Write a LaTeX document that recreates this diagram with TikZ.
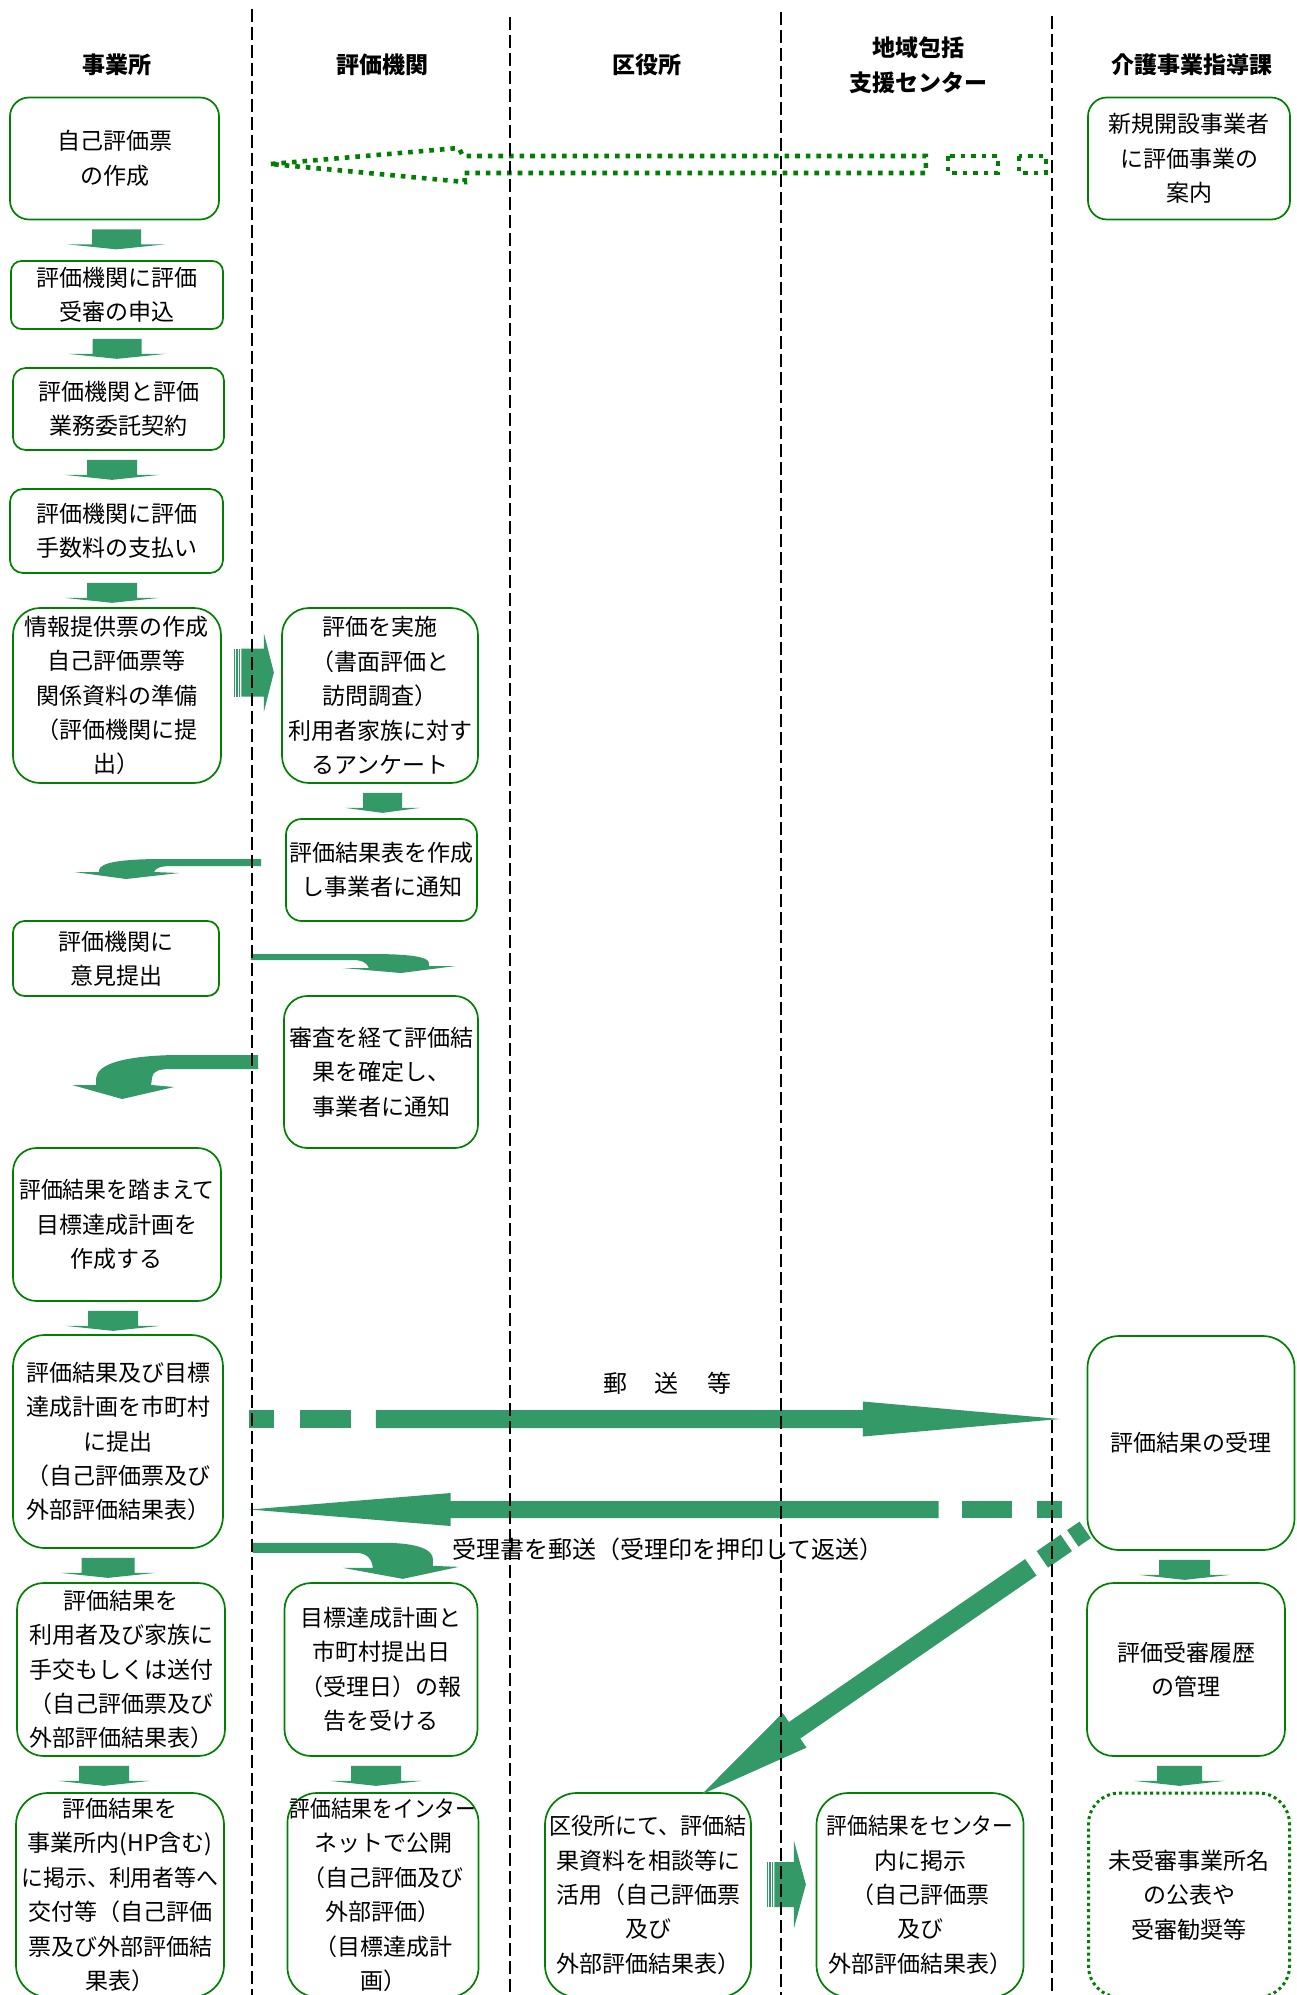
\documentclass[tikz,border=0pt]{standalone}
\usepackage{fontspec}
\setmainfont{Noto Sans CJK JP}
\usetikzlibrary{calc}
\definecolor{evgreen}{RGB}{51,153,102}
\definecolor{evline}{RGB}{0,128,0}
\tikzset{
  box/.style={draw=evline, line width=0.85pt, fill=white, align=center, inner sep=0pt,
    font=\fontsize{11.5pt}{17.2pt}\selectfont},
  boxsize/.style n args={3}{minimum width={#1*0.5pt}, minimum height={#2*0.5pt}, rounded corners={#3*0.5pt}},
  dotbox/.style={line width=1.5pt, dash pattern=on 1.5pt off 1.6pt},
  colhead/.style={font=\fontsize{11.5pt}{17.5pt}\selectfont\bfseries, align=center},
  postlabel/.style={font=\fontsize{12pt}{14pt}\selectfont},
  colline/.style={black, line width=0.7pt, dash pattern=on 6.5pt off 2.5pt},
  dotline/.style={draw=evline, line width=2.3pt, dash pattern=on 2.3pt off 3pt}
}
% small block arrow below a box: node, x offset, shaft half width, head half width
\newcommand{\flowdown}[4]{%
  \fill[evgreen] ($(#1.south)+(#2-#3,9)$) -- ($(#1.south)+(#2+#3,9)$)
    -- ($(#1.south)+(#2+#3,24)$) -- ($(#1.south)+(#2+#4,24)$) -- ($(#1.south)+(#2,29)$)
    -- ($(#1.south)+(#2-#4,24)$) -- ($(#1.south)+(#2-#3,24)$) -- cycle;}
% block arrow along local x: pieces, solid start, head base, tip, shaft half, head half
\newcommand{\tailarrow}[6]{%
  \foreach \a/\b in {#1} {\fill[evgreen] (\a,-#5) rectangle (\b,#5);}
  \fill[evgreen] (#2,-#5) -- (#3,-#5) -- (#3,-#6) -- (#4,0) -- (#3,#6) -- (#3,#5) -- (#2,#5) -- cycle;}

\begin{document}
\begin{tikzpicture}[x=0.5pt, y=-0.5pt]
\useasboundingbox (0,0) rectangle (1296,1995);
\clip (0,0) rectangle (1296,1995);
\fill[white] (0,0) rectangle (1296,1995);

% Column headers
\node[colhead] (h1) at (117,65) {事業所};
\node[colhead] (h2) at (382,65) {評価機関};
\node[colhead] (h3) at (647,65) {区役所};
\node[colhead] (h4) at (918,65) {地域包括\\支援センター};
\node[colhead] (h5) at (1192,65) {介護事業指導課};

% 事業所
\node[box, boxsize={209}{122}{19}] (b1) at (114.5,158.5) {自己評価票\\の作成};
\node[box, boxsize={212}{68}{10.5}] (b2) at (117,295) {評価機関に評価\\受審の申込};
\node[box, boxsize={211}{82}{12.6}] (b3) at (118.5,409) {評価機関と評価\\業務委託契約};
\node[box, boxsize={213}{84}{13}] (b4) at (116.5,531) {評価機関に評価\\手数料の支払い};
\node[box, boxsize={208}{175}{27}] (b5) at (117,695.5) {情報提供票の作成\\自己評価票等\\関係資料の準備\\（評価機関に提\\出）};
\node[box, boxsize={206}{75}{11.5}] (b6) at (116,958.5) {評価機関に\\意見提出};
\node[box, boxsize={208}{153}{23.5}] (b7) at (117,1224.5) {\scalebox{0.95}[1]{評価結果を踏まえて}\\目標達成計画を\\作成する};
\node[box, boxsize={210}{213}{32}] (b8) at (118,1441.5) {評価結果及び目標\\達成計画を市町村\\に提出\\（自己評価票及び\\外部評価結果表）};
\node[box, boxsize={208}{173}{26.6}] (b9) at (121,1669.5) {評価結果を\\利用者及び家族に\\手交もしくは送付\\（自己評価票及び\\外部評価結果表）};
\node[box, boxsize={208}{204}{32}] (b10) at (120,1895) {評価結果を\\事業所内(HP含む)\\\scalebox{0.95}[1]{に掲示、利用者等へ}\\交付等（自己評価\\票及び外部評価結\\果表）};

% 評価機関
\node[box, boxsize={196}{175}{27}] (c1) at (380,695.5) {評価を実施\\（書面評価と\\訪問調査）\\利用者家族に対す\\るアンケート};
\node[box, boxsize={191}{102}{15.7}] (c2) at (381.5,870) {評価結果表を作成\\し事業者に通知};
\node[box, boxsize={194}{152}{23.4}] (c3) at (381,1072) {審査を経て評価結\\果を確定し、\\事業者に通知};
\node[box, boxsize={193}{173}{26.6}] (c4) at (381,1669.5) {目標達成計画と\\市町村提出日\\（受理日）の報\\告を受ける};
\node[box, boxsize={191}{204}{29.4}] (c5) at (383,1895) {\scalebox{0.9}[1]{評価結果をインター}\\ネットで公開\\（自己評価及び\\外部評価）\\（目標達成計\\画）};

% 区役所・地域包括支援センター
\node[box, boxsize={206}{204}{31.7}] (d1) at (648,1895) {\scalebox{0.96}[1]{区役所にて、評価結}\\果資料を相談等に\\活用（自己評価票\\及び\\外部評価結果表）};
\node[box, boxsize={207}{204}{31.8}] (e1) at (920,1895) {\scalebox{0.9}[1]{評価結果をセンター}\\内に掲示\\（自己評価票\\及び\\外部評価結果表）};

% 介護事業指導課
\node[box, boxsize={202}{122}{18.8}] (f1) at (1189,158.5) {新規開設事業者\\に評価事業の\\案内};
\node[box, boxsize={207}{214}{31.8}] (f2) at (1191,1443) {評価結果の受理};
\node[box, boxsize={198}{173}{26.6}] (f3) at (1186,1669.5) {評価受審履歴\\の管理};
\node[box, dotbox, boxsize={201}{204}{31}] (f4) at (1189,1895) {未受審事業所名\\の公表や\\受審勧奨等};

% Down arrows
\flowdown{b1}{2}{24.5}{49}
\flowdown{b2}{0}{24.5}{49}
\flowdown{b3}{-6.5}{25}{47.5}
\flowdown{b4}{-4.5}{25}{47.5}
\flowdown{b7}{-4}{25}{47.5}
\flowdown{b8}{-10}{26.5}{47.5}
\flowdown{b9}{-17}{25}{46}
\flowdown{c1}{2.5}{19.5}{37.5}
\flowdown{c4}{-5}{25}{46}
\flowdown{f2}{-6.5}{25.5}{46}
\flowdown{f3}{-6.5}{22.5}{45.5}

% Guidance (dotted outline arrow)
\coordinate (dotA) at ($(b1.east)+(51,5.5)$);
\begin{scope}[shift={(dotA)}]
\draw[dotline] (0,0) -- (188,-16) -- (192,-8) -- (655,-8) -- (655,9) -- (193,9) -- (194,18) -- cycle;
\draw[dotline] (677,-8) rectangle (727,9);
\draw[dotline] (748,-8) rectangle (775,9);
\end{scope}

% Striped arrows
\coordinate (s1A) at ($(b5.east)+(12,-23)$);
\begin{scope}[shift={(s1A)}]
\tailarrow{0/1.3,2.5/3.8,5/6.3}{7.5}{30}{40}{24}{39.5}
\end{scope}
\coordinate (s2A) at ($(d1.east)+(15,-10.5)$);
\begin{scope}[shift={(s2A)}]
\tailarrow{0/1.3,2.5/3.8,5/6.3}{7.5}{27}{39}{22.5}{44}
\end{scope}

% Curved arrows
\coordinate (c2out) at ($(c2.west)+(-24,-7.5)$);
\fill[evgreen, shift={(c2out)}] (0,-3.5) -- (-97,-3.5) .. controls (-137,-3.5) and (-161,-0.5) .. (-162,7.5)
  -- (-162,9.5) -- (-187,9.5) -- (-135,16.5) -- (-82,10.5) -- (-107,9.5)
  .. controls (-106,5.5) and (-100,3.5) .. (-90,3.5) -- (0,3.5) -- cycle;
\coordinate (b6out) at ($(b6.east)+(31,-1.5)$);
\fill[evgreen, shift={(b6out)}] (0,-3) -- (120,-3) .. controls (160,-3) and (178,0) .. (178,6)
  -- (178,9) -- (205,9) -- (150,16) -- (92,11) -- (118,11)
  .. controls (116,5) and (110,3) .. (102,3) -- (0,3) -- cycle;
\coordinate (c3out) at ($(c3.west)+(-25,-10)$);
\fill[evgreen, shift={(c3out)}] (0,-7) -- (-84,-7) .. controls (-134,-6) and (-161,2) .. (-162,16)
  -- (-162,23) -- (-186,23) -- (-136,37) -- (-84,25) -- (-107,23) -- (-106,15)
  .. controls (-105,9) and (-99,7) .. (-87,7) -- (0,7) -- cycle;
\coordinate (b8out) at ($(b8.south east)+(29,-1)$);
\fill[evgreen, shift={(b8out)}] (0,-5) -- (131,-5) .. controls (168,-5) and (180,3) .. (180,11)
  -- (180,18) -- (206,19) -- (150,31) -- (90,20) -- (120,20)
  .. controls (119,10) and (113,5) .. (103,5) -- (0,5) -- cycle;

% Submission and receipt
\coordinate (postA) at ($(b8.east)+(25,-22.5)$);
\begin{scope}[shift={(postA)}]
\tailarrow{0/25,51/102}{127}{614}{811}{9}{17.5}
\end{scope}
\coordinate (backA) at ($(f2.west)+(-25,66.5)$);
\begin{scope}[shift={(backA)}, rotate=180]
\tailarrow{0/25,50/100}{123}{611}{812}{8.5}{16.5}
\end{scope}
\coordinate (diagA) at ($(f2.south west)+(-1.5,-21)$);
\begin{scope}[shift={(diagA)}, rotate=214.6]
\tailarrow{0/15,23/52}{66}{353}{466}{10}{21}
\end{scope}
\node[postlabel] (mail) at (667,1383) {郵\hspace{14pt}送\hspace{14pt}等};
\node[postlabel] (receipt) at (668,1549) {受理書を郵送（受理印を押印して返送）};

% Column separators
\foreach \cx/\cy in {252/9, 510/17, 781/12, 1052/16}
  \draw[colline] (\cx,\cy) -- (\cx,1995);
\end{tikzpicture}
\end{document}
